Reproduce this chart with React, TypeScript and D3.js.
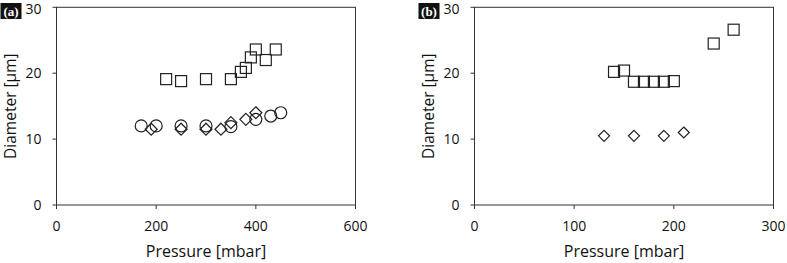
import * as d3 from "d3";

// panel (a)
const aSquareX = [220, 250, 300, 350, 370, 380, 390, 400, 420, 440];
const aSquareY = [19.1, 18.8, 19.1, 19.1, 20.2, 20.8, 22.4, 23.6, 22.0, 23.6];
const aCircleX = [170, 200, 250, 300, 350, 400, 430, 450];
const aCircleY = [12.0, 12.0, 12.0, 12.0, 11.9, 13.0, 13.5, 14.0];
const aDiamondX = [190, 250, 300, 330, 350, 380, 400];
const aDiamondY = [11.5, 11.5, 11.5, 11.5, 12.5, 13.0, 14.0];

// panel (b)
const bSquareX = [140, 150, 160, 170, 180, 190, 200, 240, 260];
const bSquareY = [20.2, 20.4, 18.7, 18.7, 18.7, 18.7, 18.8, 24.5, 26.6];
const bDiamondX = [130, 160, 190, 210];
const bDiamondY = [10.5, 10.5, 10.5, 11.0];

const yTicks = [0, 10, 20, 30];
const aXTicks = [0, 200, 400, 600];
const bXTicks = [0, 100, 200, 300];

const FONT = "'Open Sans', 'Liberation Sans', sans-serif";

type Pt = { x: number; y: number };
const zip = (xs: number[], ys: number[]): Pt[] => xs.map((x, i) => ({ x, y: ys[i] }));

type PanelProps = {
  left: number;
  label: string;
  xMax: number;
  xTicks: number[];
  squares: Pt[];
  circles: Pt[];
  diamonds: Pt[];
  diamondR: number;
};

const Panel = ({ left, label, xMax, xTicks, squares, circles, diamonds, diamondR }: PanelProps) => {
  const plotW = 299;
  const top = 7.3;
  const bottom = 205;
  const x = d3.scaleLinear().domain([0, xMax]).range([left, left + plotW]);
  const y = d3.scaleLinear().domain([0, 30]).range([bottom, top]);
  const sq = 11;
  const stroke = "#222";

  return (
    <g>
      <rect x={left} y={top} width={plotW} height={bottom - top} fill="white" stroke="#333" strokeWidth={1} />
      {yTicks.map((t) => (
        <g key={"y" + t}>
          <line x1={left - 4} x2={left} y1={y(t)} y2={y(t)} stroke="#333" />
          {/* keep the top label inside the page */}
          <text x={left - 15} y={Math.max(y(t), 9)} dy="0.36em" textAnchor="end" fontSize={14} fontFamily={FONT} fill="#111">
            {t}
          </text>
        </g>
      ))}
      {xTicks.map((t) => (
        <g key={"x" + t}>
          <line x1={x(t)} x2={x(t)} y1={bottom} y2={bottom + 4} stroke="#333" />
          <text x={x(t)} y={bottom + 26} textAnchor="middle" fontSize={14} fontFamily={FONT} fill="#111">
            {t}
          </text>
        </g>
      ))}
      <text x={left + plotW / 2} y={257} textAnchor="middle" fontSize={16} fontFamily={FONT} fill="#111">
        Pressure [mbar]
      </text>
      <text
        transform={`translate(${left - 40.5},${(top + bottom) / 2}) rotate(-90)`}
        textAnchor="middle"
        fontSize={15.5}
        fontFamily={FONT}
        fill="#111"
      >
        Diameter [µm]
      </text>
      {circles.map((d, i) => (
        <circle key={"c" + i} cx={x(d.x)} cy={y(d.y)} r={6} fill="none" stroke={stroke} strokeWidth={1.2} />
      ))}
      {diamonds.map((d, i) => {
        const cx = x(d.x);
        const cy = y(d.y);
        const r = diamondR;
        return (
          <path
            key={"d" + i}
            d={`M${cx},${cy - r}L${cx + r},${cy}L${cx},${cy + r}L${cx - r},${cy}Z`}
            fill="none"
            stroke={stroke}
            strokeWidth={1.2}
          />
        );
      })}
      {squares.map((d, i) => (
        <rect
          key={"s" + i}
          x={x(d.x) - sq / 2}
          y={y(d.y) - sq / 2}
          width={sq}
          height={sq}
          fill="none"
          stroke={stroke}
          strokeWidth={1.2}
        />
      ))}
      <rect x={left - 56} y={3} width={21} height={16} fill="#111" />
      <text x={left - 45.5} y={15.5} textAnchor="middle" fontSize={13} fontWeight="bold" fontFamily="'Liberation Serif', serif" fill="white">
        {label}
      </text>
    </g>
  );
};

const App = () => {
  return (
    <svg width={787} height={263} style={{ position: "absolute", left: 0, top: 0, background: "white" }}>
      <rect width={787} height={263} fill="white" />
      <Panel
        left={56.5}
        label="(a)"
        xMax={600}
        xTicks={aXTicks}
        squares={zip(aSquareX, aSquareY)}
        circles={zip(aCircleX, aCircleY)}
        diamonds={zip(aDiamondX, aDiamondY)}
        diamondR={6}
      />
      <Panel
        left={474.5}
        label="(b)"
        xMax={300}
        xTicks={bXTicks}
        squares={zip(bSquareX, bSquareY)}
        circles={[]}
        diamonds={zip(bDiamondX, bDiamondY)}
        diamondR={5.5}
      />
    </svg>
  );
};

export default App;
